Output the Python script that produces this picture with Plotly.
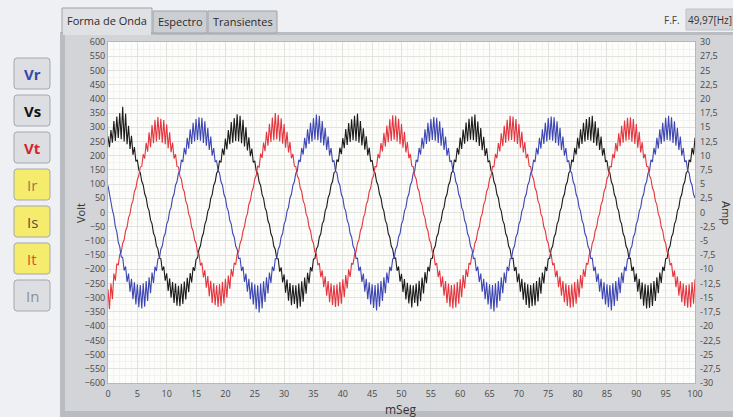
import plotly.graph_objects as go

# Sample spacing of the recorded waveforms, in milliseconds
DT = 0.25

# Phase voltages [V], one sample every DT ms from 0 to 100 ms
vr = [
    95, 62, 40, 8, -12, -50, -68, -104, -120, -156, -158, -204, -190, -244, -215, -279, -233, -305, -246, -324,
    -253, -333, -255, -338, -249, -332, -241, -311, -228, -284, -211, -248, -191, -206, -163, -161, -129, -118, -86, -74,
    -41, -28, 5, 18, 51, 64, 96, 108, 139, 146, 185, 178, 227, 204, 263, 225, 293, 241, 316, 250,
    329, 255, 335, 253, 333, 245, 321, 235, 298, 220, 267, 200, 227, 178, 183, 147, 139, 108, 96, 64,
    51, 18, 5, -28, -41, -74, -86, -118, -129, -162, -161, -206, -191, -244, -215, -279, -233, -305, -246, -324,
    -253, -340, -256, -352, -250, -338, -242, -315, -228, -285, -211, -248, -191, -206, -163, -161, -129, -118, -86, -74,
    -41, -28, 5, 18, 51, 64, 96, 108, 139, 146, 185, 178, 227, 204, 263, 225, 293, 241, 316, 250,
    332, 256, 345, 254, 340, 246, 322, 236, 298, 220, 267, 200, 227, 178, 183, 147, 139, 108, 96, 64,
    51, 18, 5, -28, -41, -74, -86, -118, -129, -162, -161, -206, -191, -244, -215, -279, -233, -305, -246, -324,
    -253, -336, -255, -345, -249, -332, -241, -311, -228, -284, -211, -248, -191, -206, -163, -161, -129, -118, -86, -74,
    -41, -28, 5, 18, 51, 64, 96, 108, 139, 146, 185, 178, 227, 204, 263, 225, 293, 241, 316, 250,
    329, 255, 336, 253, 333, 245, 321, 235, 298, 220, 267, 200, 227, 178, 183, 147, 139, 108, 96, 64,
    51, 18, 5, -28, -41, -74, -86, -118, -129, -162, -161, -206, -191, -244, -215, -279, -233, -305, -246, -324,
    -253, -340, -255, -348, -249, -335, -241, -311, -228, -284, -211, -248, -191, -206, -163, -161, -129, -118, -86, -74,
    -41, -28, 5, 18, 51, 64, 96, 108, 139, 146, 185, 178, 227, 204, 263, 225, 293, 241, 316, 250,
    332, 255, 338, 253, 335, 245, 321, 235, 298, 220, 267, 200, 227, 178, 183, 147, 139, 108, 96, 64,
    51, 18, 5, -28, -41, -74, -86, -118, -129, -162, -161, -206, -191, -244, -215, -279, -233, -305, -246, -324,
    -253, -333, -255, -345, -249, -329, -241, -311, -228, -284, -211, -248, -191, -206, -163, -161, -129, -118, -86, -74,
    -41, -28, 5, 18, 51, 64, 96, 108, 139, 146, 185, 178, 227, 204, 263, 225, 293, 241, 316, 250,
    333, 255, 340, 253, 335, 245, 321, 235, 298, 220, 267, 200, 227, 178, 183, 147, 139, 108, 96, 64,
    51,
]

vs = [
    268, 230, 290, 246, 322, 252, 338, 262, 350, 258, 372, 250, 348, 240, 305, 224, 270, 203, 230, 180,
    185, 149, 140, 110, 97, 66, 52, 20, 6, -27, -40, -73, -85, -117, -128, -160, -162, -204, -190, -240,
    -214, -276, -232, -300, -245, -318, -250, -328, -258, -330, -252, -322, -243, -306, -230, -280, -213, -246, -193, -205,
    -165, -160, -130, -117, -88, -73, -42, -27, 4, 17, 50, 63, 95, 107, 138, 147, 183, 176, 225, 202,
    260, 222, 290, 240, 318, 246, 332, 252, 346, 250, 340, 244, 326, 232, 300, 218, 265, 198, 225, 176,
    182, 146, 138, 107, 95, 63, 50, 17, 4, -29, -42, -75, -87, -119, -130, -163, -163, -208, -193, -246,
    -218, -282, -236, -310, -248, -326, -255, -322, -256, -338, -250, -332, -242, -314, -229, -286, -212, -250, -192, -207,
    -164, -162, -128, -119, -87, -75, -40, -29, 6, 19, 52, 65, 97, 109, 140, 145, 186, 179, 228, 205,
    262, 226, 294, 238, 315, 248, 328, 254, 340, 252, 348, 246, 322, 236, 296, 221, 268, 201, 228, 179,
    184, 148, 139, 109, 96, 65, 51, 19, 5, -28, -41, -74, -86, -118, -129, -161, -160, -205, -190, -243,
    -216, -280, -234, -306, -247, -320, -254, -334, -256, -318, -250, -330, -240, -312, -229, -285, -210, -249, -191, -207,
    -163, -161, -129, -118, -86, -74, -41, -28, 5, 18, 51, 64, 96, 108, 139, 146, 185, 178, 227, 204,
    264, 224, 292, 242, 317, 251, 330, 256, 338, 254, 345, 247, 320, 234, 297, 219, 266, 199, 226, 177,
    183, 147, 139, 108, 96, 64, 51, 18, 5, -28, -41, -74, -86, -118, -129, -162, -161, -206, -192, -245,
    -215, -279, -233, -307, -246, -325, -253, -336, -255, -330, -249, -327, -241, -313, -228, -286, -211, -250, -191, -206,
    -163, -161, -129, -118, -86, -74, -41, -28, 5, 18, 51, 64, 96, 108, 139, 146, 185, 178, 227, 204,
    263, 225, 293, 241, 316, 250, 329, 255, 336, 253, 340, 245, 321, 235, 298, 220, 267, 200, 227, 178,
    183, 147, 139, 108, 96, 64, 51, 18, 5, -28, -41, -74, -86, -118, -129, -162, -161, -206, -191, -244,
    -215, -279, -233, -305, -246, -328, -253, -338, -255, -335, -249, -329, -241, -311, -228, -284, -211, -248, -191, -206,
    -163, -161, -129, -118, -86, -74, -41, -28, 5, 18, 51, 64, 96, 108, 139, 146, 185, 178, 227, 204,
    263,
]

vt = [
    -270, -340, -250, -305, -215, -240, -180, -185, -148, -140, -108, -96, -64, -51, -18, -5, 28, 41, 74, 86,
    116, 130, 160, 162, 205, 190, 245, 214, 282, 230, 308, 244, 326, 250, 336, 256, 330, 246, 325, 240,
    310, 226, 282, 212, 246, 190, 205, 162, 160, 128, 117, 85, 73, 40, 27, -6, -19, -52, -65, -97,
    -107, -140, -145, -186, -177, -228, -203, -265, -224, -295, -240, -318, -249, -326, -256, -332, -252, -330, -244, -320,
    -233, -300, -222, -268, -199, -226, -177, -184, -146, -138, -109, -95, -65, -50, -19, -4, 29, 42, 73, 87,
    117, 130, 163, 160, 207, 192, 246, 216, 284, 235, 312, 248, 334, 254, 350, 257, 344, 250, 332, 242,
    311, 228, 284, 211, 248, 191, 206, 163, 161, 129, 118, 86, 74, 41, 28, -5, -18, -51, -64, -96,
    -108, -139, -146, -185, -178, -227, -204, -263, -225, -293, -241, -316, -250, -326, -255, -332, -253, -330, -245, -321,
    -235, -298, -220, -267, -200, -227, -178, -183, -147, -139, -108, -96, -64, -51, -18, -5, 28, 41, 74, 86,
    118, 129, 162, 161, 206, 191, 244, 215, 280, 232, 306, 247, 328, 252, 342, 256, 340, 250, 330, 240,
    311, 228, 284, 211, 248, 191, 206, 163, 161, 129, 118, 86, 74, 41, 28, -5, -18, -51, -64, -96,
    -108, -139, -146, -185, -178, -227, -204, -263, -225, -293, -241, -318, -250, -332, -255, -338, -253, -334, -245, -321,
    -235, -298, -220, -267, -200, -227, -178, -183, -147, -139, -108, -96, -64, -51, -18, -5, 28, 41, 74, 86,
    118, 129, 162, 161, 206, 191, 244, 215, 279, 233, 305, 246, 326, 253, 340, 255, 338, 249, 329, 241,
    311, 228, 284, 211, 248, 191, 206, 163, 161, 129, 118, 86, 74, 41, 28, -5, -18, -51, -64, -96,
    -108, -139, -146, -185, -178, -227, -204, -263, -225, -293, -241, -316, -250, -329, -255, -335, -253, -333, -245, -321,
    -235, -298, -220, -267, -200, -227, -178, -183, -147, -139, -108, -96, -64, -51, -18, -5, 28, 41, 74, 86,
    118, 129, 162, 161, 206, 191, 244, 215, 279, 233, 305, 246, 324, 253, 333, 255, 335, 249, 329, 241,
    311, 228, 284, 211, 248, 191, 206, 163, 161, 129, 118, 86, 74, 41, 28, -5, -18, -51, -64, -96,
    -108, -139, -146, -185, -178, -227, -204, -263, -225, -293, -241, -316, -250, -329, -255, -335, -253, -333, -245, -321,
    -235,
]

# Axis ticks
time_ticks = list(range(0, 101, 5))
volt_ticks = list(range(-600, 601, 50))
amp_ticks = [-30, -27.5, -25, -22.5, -20, -17.5, -15, -12.5, -10, -7.5, -5, -2.5, 0,
             2.5, 5, 7.5, 10, 12.5, 15, 17.5, 20, 22.5, 25, 27.5, 30]
amp_labels = ["-30", "-27,5", "-25", "-22,5", "-20", "-17,5", "-15", "-12,5", "-10", "-7,5", "-5", "-2,5", "0",
              "2,5", "5", "7,5", "10", "12,5", "15", "17,5", "20", "22,5", "25", "27,5", "30"]

# Channel selector buttons
channels = ["Vr", "Vs", "Vt", "Ir", "Is", "It", "In"]
channel_text = ["#3a47a6", "#111111", "#d2262b", "#8a8050", "#55533f", "#d9502a", "#8c9197"]
channel_fill = ["#dcdee1", "#dcdee1", "#dcdee1", "#f5ec6e", "#f5ec6e", "#f5ec6e", "#dcdee1"]
channel_bold = [True, True, True, False, False, False, False]

tabs = ["Forma de Onda", "Espectro", "Transientes"]
freq_text = "49,97[Hz]"

# ---- pixel geometry of the panel ----
W, H = 733, 417
PL, PR, PT, PB = 108, 695, 42, 383   # plot area


def fx(x):
    return (x - PL) / (PR - PL)


def fy(y):
    return (PB - y) / (PB - PT)


def rect(x0, y0, x1, y1, fill, line=None, width=1):
    return dict(type="rect", xref="paper", yref="paper", layer="below",
                x0=fx(x0), x1=fx(x1), y0=fy(y1), y1=fy(y0),
                fillcolor=fill, line=dict(color=line or fill, width=width if line else 0))


def rrect(x0, y0, x1, y1, fill, line, r=3):
    a, b, c, d = fx(x0), fx(x1), fy(y0), fy(y1)
    rx = r / (PR - PL)
    ry = r / (PB - PT)
    path = (f"M {a+rx},{c} L {b-rx},{c} Q {b},{c} {b},{c-ry} L {b},{d+ry} Q {b},{d} {b-rx},{d} "
            f"L {a+rx},{d} Q {a},{d} {a},{d+ry} L {a},{c-ry} Q {a},{c} {a+rx},{c} Z")
    return dict(type="path", xref="paper", yref="paper", layer="above", path=path,
                fillcolor=fill, line=dict(color=line, width=1))


def label(x, y, text, size=11, color="#333", bold=False, angle=0, anchor="center", family="Open Sans"):
    return dict(xref="paper", yref="paper", x=fx(x), y=fy(y), text=f"<b>{text}</b>" if bold else text,
                showarrow=False, textangle=angle, xanchor=anchor, yanchor="middle",
                font=dict(size=size, color=color, family=family))


shapes = [
    rect(60, 32, 733, 417, "#b9bcc0"),
    rect(65, 35, 733, 411, "#d2d4d7"),
    rect(PL, PT, PR, PB, "#fdfdfc"),
]
annotations = []

# tabs
tab_x = [(62, 152), (153, 207), (208, 277)]
for i, (name, (a, b)) in enumerate(zip(tabs, tab_x)):
    top = 8 if i == 0 else 11
    shapes.append(rect(a, top, b, 33, "#dfe1e4" if i == 0 else "#cbced2", "#9fa3a8"))
    annotations.append(label((a + b) / 2, 20 if i == 0 else 21, name, size=11, color="#2b2b2b"))
shapes.append(rect(63, 32, 151, 35, "#dfe1e4"))

# fundamental frequency readout
annotations.append(label(682, 20, "F.F.", size=10, color="#444", anchor="right"))
shapes.append(rect(686, 9, 733, 30, "#d3d5d8", "#c0c3c7"))
annotations.append(label(710, 20, freq_text, size=10, color="#333"))

# channel buttons
for i, ch in enumerate(channels):
    top = 58 + i * 37
    shapes.append(rrect(14, top, 50, top + 31, channel_fill[i], "#a4a8ad"))
    annotations.append(label(32, top + 16, ch, size=15, color=channel_text[i], bold=channel_bold[i]))

# axis titles
annotations.append(label(80, 213, "Volt", size=11, color="#333", angle=-90))
annotations.append(label(727, 213, "Amp", size=11, color="#333", angle=90))
annotations.append(label(400, 409, "mSeg", size=12, color="#333"))

fig = go.Figure()
fig.add_trace(go.Scatter(y=vs, x0=0, dx=DT, mode="lines", name="Vs",
                         line=dict(color="#1b1b1b", width=1.1)))
fig.add_trace(go.Scatter(y=vt, x0=0, dx=DT, mode="lines", name="Vt",
                         line=dict(color="#e3363f", width=1.1)))
fig.add_trace(go.Scatter(y=vr, x0=0, dx=DT, mode="lines", name="Vr",
                         line=dict(color="#3d46b2", width=1.1)))
# current axis (no current channel enabled)
fig.add_trace(go.Scatter(x=[None], y=[None], yaxis="y2", mode="lines", showlegend=False))

tick_font = dict(size=9, color="#4a4a4a", family="Open Sans")
fig.update_layout(
    width=W, height=H,
    margin=dict(l=PL, r=W - PR, t=PT, b=H - PB),
    paper_bgcolor="#eef0f3",
    plot_bgcolor="#fdfdfc",
    showlegend=False,
    shapes=shapes,
    annotations=annotations,
    xaxis=dict(range=[0, 100], tickvals=time_ticks, ticks="", tickfont=tick_font,
               ticklabelstandoff=2,
               showgrid=True, gridcolor="#e2e2df", gridwidth=1, zeroline=False,
               minor=dict(dtick=1, showgrid=True, gridcolor="#f3f3f0"),
               showline=True, linecolor="#b8b8b8", mirror=True),
    yaxis=dict(range=[-600, 600], tickvals=volt_ticks, ticks="", tickfont=tick_font,
               showgrid=True, gridcolor="#e2e2df", gridwidth=1, zeroline=False,
               minor=dict(dtick=25, showgrid=True, gridcolor="#f3f3f0"),
               showline=True, linecolor="#b8b8b8", mirror=True),
    yaxis2=dict(range=[-30, 30], overlaying="y", side="right", tickvals=amp_ticks,
                ticktext=amp_labels, ticks="", tickfont=tick_font, showgrid=False,
                ticklabelstandoff=4, zeroline=False),
)

fig.write_html("out.html")
